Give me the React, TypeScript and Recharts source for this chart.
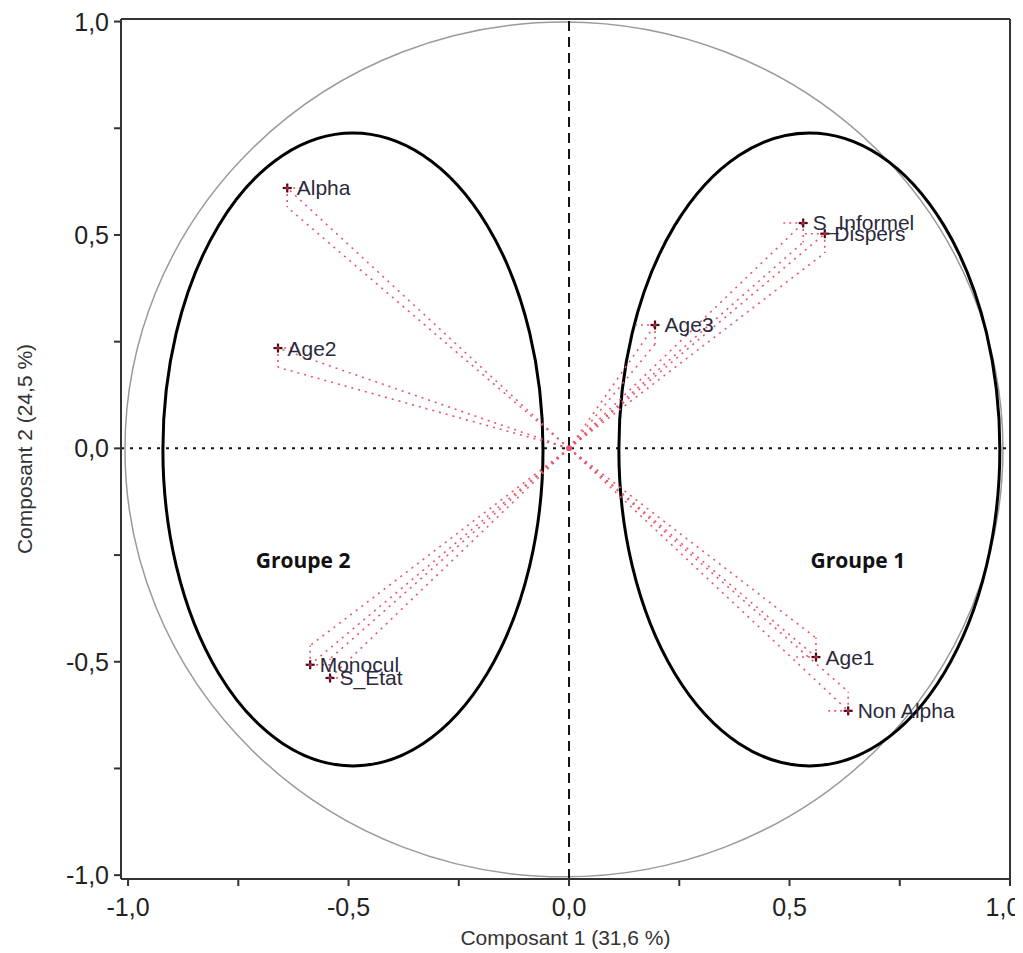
import {
  ScatterChart,
  Scatter,
  XAxis,
  YAxis,
  ReferenceLine,
  ReferenceArea,
  ReferenceDot,
  LabelList,
} from 'recharts'

// variables on the first two components
const varNames = ['Alpha', 'Age2', 'S_Informel', 'Dispers', 'Age3', 'Monocul', 'S_Etat', 'Age1', 'Non Alpha']
const comp1 = [-0.639, -0.66, 0.531, 0.58, 0.195, -0.587, -0.542, 0.56, 0.633]
const comp2 = [0.61, 0.235, 0.528, 0.503, 0.289, -0.507, -0.538, -0.489, -0.615]

const axisTicks = [-1, -0.75, -0.5, -0.25, 0, 0.25, 0.5, 0.75, 1]

// group ellipses
const groupNames = ['Groupe 2', 'Groupe 1']
const groupLabelX = [-0.603, 0.655]
const groupLabelY = [-0.262, -0.262]
const groupX1 = [-0.921, 0.113]
const groupX2 = [-0.059, 0.977]
const groupY1 = [-0.744, -0.744]
const groupY2 = [0.739, 0.739]

// correlation circle
const circleX = [-1.007, 0.984]
const circleY = [-1.004, 0.999]

const arrowHead = 0.045

const points = varNames.map((name, i) => ({ name, x: comp1[i], y: comp2[i] }))

const FONT = '"Liberation Sans", Arial, sans-serif'
const RED = '#e8566a'

const fmt = (v: number) => (Number.isInteger(v * 2) ? v.toFixed(1).replace('.', ',') : '')

const Plus = ({ cx, cy }: any) => (
  <g>
    <line x1={cx - 4.5} x2={cx + 4.5} y1={cy} y2={cy} stroke="#3f0c1a" strokeWidth={2.2} />
    <line x1={cx} x2={cx} y1={cy - 4.5} y2={cy + 4.5} stroke="#3f0c1a" strokeWidth={2.2} />
    <circle cx={cx} cy={cy} r={1.8} fill="#c0203a" />
  </g>
)

const Oval = (stroke: string, width: number) => (p: any) => (
  <ellipse
    cx={p.x + p.width / 2}
    cy={p.y + p.height / 2}
    rx={Math.abs(p.width) / 2}
    ry={Math.abs(p.height) / 2}
    fill="none"
    stroke={stroke}
    strokeWidth={width}
  />
)

const XTick = ({ x, y, payload }: any) => (
  <text
    x={payload.value === 1 ? x - 7 : x}
    y={y}
    dy="0.71em"
    textAnchor="middle"
    fontFamily={FONT}
    fontSize={25}
    fill="#222"
  >
    {fmt(payload.value)}
  </text>
)

const XLabel = ({ viewBox }: any) => (
  <text
    x={viewBox.x + viewBox.width / 2}
    y={viewBox.y + 66}
    textAnchor="middle"
    fontFamily={FONT}
    fontSize={21}
    fill="#333"
  >
    Composant 1 (31,6 %)
  </text>
)

const YLabel = ({ viewBox }: any) => {
  const cx = viewBox.x + 16
  const cy = viewBox.y + viewBox.height / 2
  return (
    <text
      x={cx}
      y={cy}
      transform={`rotate(-90 ${cx} ${cy})`}
      textAnchor="middle"
      dominantBaseline="central"
      fontFamily={FONT}
      fontSize={21}
      fill="#333"
    >
      Composant 2 (24,5 %)
    </text>
  )
}

const tickStyle = { fontSize: 25, fill: '#222', fontFamily: FONT }

export default function App() {
  const sx = (v: number) => Math.sign(v)
  return (
    <ScatterChart width={1015} height={945} margin={{ top: 11, right: 13, bottom: 0, left: 0 }}>
      <XAxis
        type="number"
        dataKey="x"
        domain={[-1.016, 1]}
        ticks={axisTicks}
        allowDataOverflow
        height={74}
        tickSize={7}
        tickMargin={12}
        stroke="#333"
        strokeWidth={2}
        tick={<XTick />}
        label={<XLabel />}
      />
      <YAxis
        type="number"
        dataKey="y"
        domain={[-1.009, 1.006]}
        ticks={axisTicks}
        tickFormatter={fmt}
        allowDataOverflow
        width={113}
        tickSize={7}
        tickMargin={5}
        stroke="#333"
        strokeWidth={2}
        tick={tickStyle}
        label={<YLabel />}
      />

      <ReferenceLine y={1.006} stroke="#333" strokeWidth={2} />
      <ReferenceLine x={1} stroke="#333" strokeWidth={2} />

      <ReferenceArea
        x1={circleX[0]}
        x2={circleX[1]}
        y1={circleY[0]}
        y2={circleY[1]}
        shape={Oval('#9a9a9a', 1.5)}
      />
      {groupNames.map((g, i) => (
        <ReferenceArea
          key={g}
          x1={groupX1[i]}
          x2={groupX2[i]}
          y1={groupY1[i]}
          y2={groupY2[i]}
          shape={Oval('#000', 3)}
        />
      ))}

      <ReferenceLine x={0} stroke="#111" strokeWidth={2} strokeDasharray="10 6" />
      <ReferenceLine y={0} stroke="#111" strokeWidth={2} strokeDasharray="3 6" />

      {points.map((p) => (
        <ReferenceLine
          key={p.name + '-shaft'}
          segment={[{ x: 0, y: 0 }, { x: p.x, y: p.y }]}
          stroke={RED}
          strokeWidth={1.6}
          strokeDasharray="2 5"
        />
      ))}
      {points.map((p) => (
        <ReferenceLine
          key={p.name + '-shaft2'}
          segment={[{ x: 0, y: 0 }, { x: p.x, y: p.y - sx(p.y) * arrowHead }]}
          stroke={RED}
          strokeWidth={1.6}
          strokeDasharray="2 5"
        />
      ))}
      {points.map((p) => (
        <ReferenceLine
          key={p.name + '-h'}
          segment={[{ x: p.x, y: p.y }, { x: p.x - sx(p.x) * arrowHead, y: p.y }]}
          stroke={RED}
          strokeWidth={1.6}
          strokeDasharray="2 4"
        />
      ))}
      {points.map((p) => (
        <ReferenceLine
          key={p.name + '-v'}
          segment={[{ x: p.x, y: p.y }, { x: p.x, y: p.y - sx(p.y) * arrowHead }]}
          stroke={RED}
          strokeWidth={1.6}
          strokeDasharray="2 4"
        />
      ))}

      <ReferenceDot x={0} y={0} r={3} fill={RED} stroke="none" />

      {groupNames.map((g, i) => (
        <ReferenceDot
          key={g + '-label'}
          x={groupLabelX[i]}
          y={groupLabelY[i]}
          r={0}
          shape={(p: any) => (
            <text
              x={p.cx}
              y={p.cy}
              textAnchor="middle"
              dominantBaseline="central"
              fontFamily='"Open Sans", Arial, sans-serif'
              fontWeight="bold"
              fontSize={21}
              fill="#111"
            >
              {g}
            </text>
          )}
        />
      ))}

      <Scatter data={points} shape={<Plus />} isAnimationActive={false}>
        <LabelList
          dataKey="name"
          position="right"
          offset={5}
          fill="#2a2a3c"
          fontSize={21}
          fontFamily={FONT}
        />
      </Scatter>
    </ScatterChart>
  )
}
